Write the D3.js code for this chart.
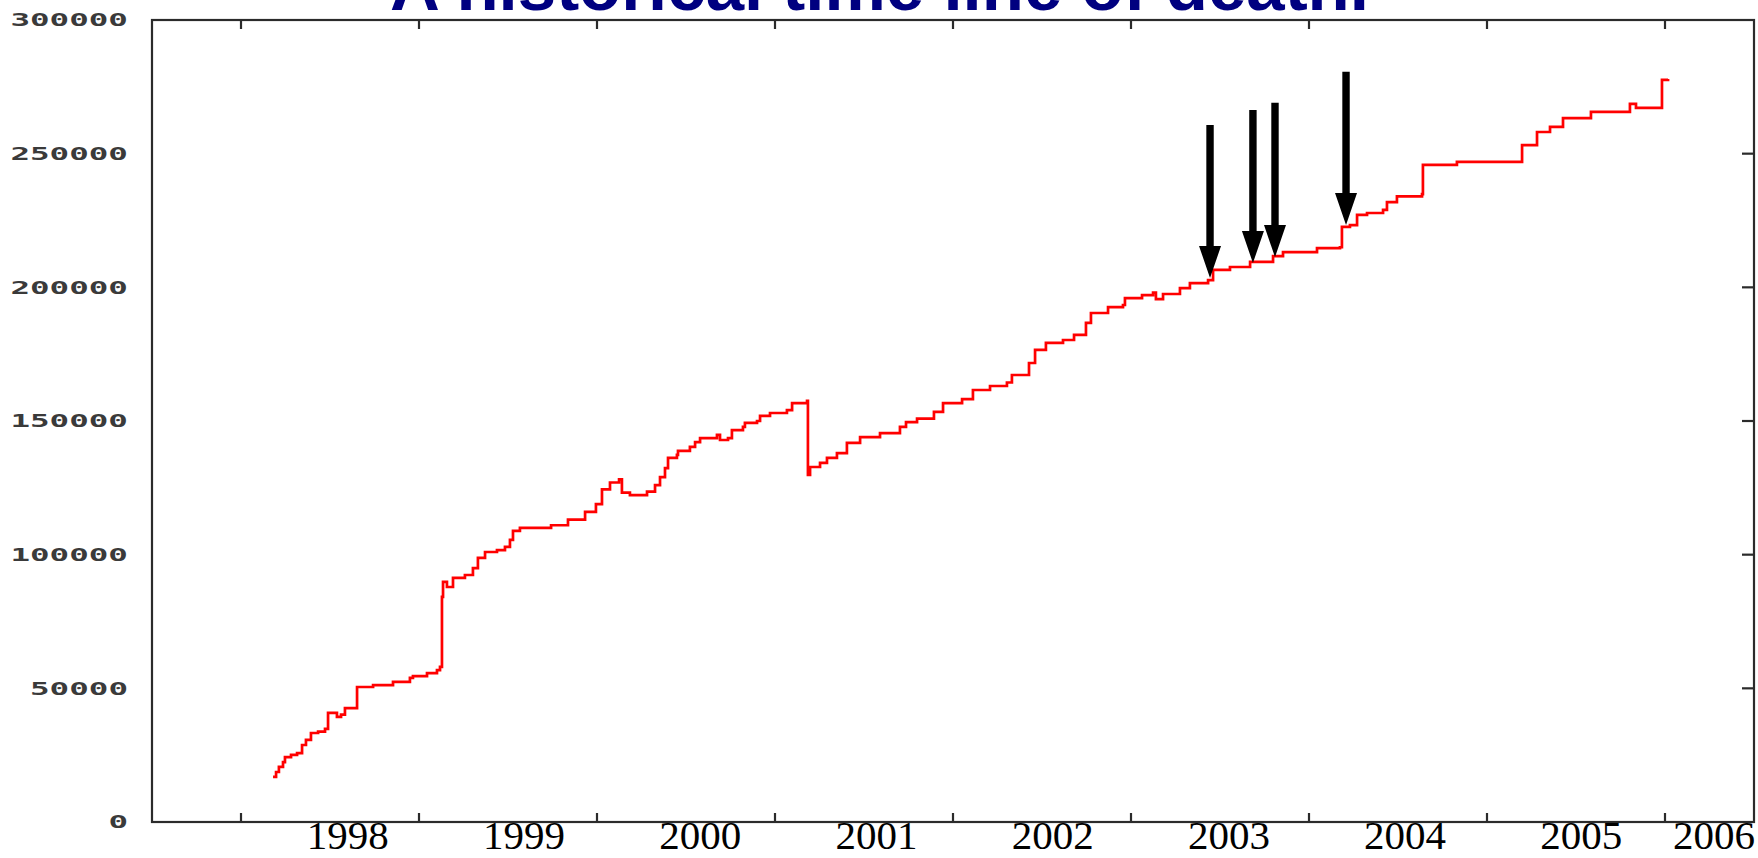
<!DOCTYPE html>
<html>
<head>
<meta charset="utf-8">
<script src="https://cdn.jsdelivr.net/npm/d3@7"></script>
<style>
  html, body { margin: 0; padding: 0; background: #fff; overflow: hidden; }
  svg { display: block; }
</style>
</head>
<body>
<svg id="chart"></svg>
<script>
// cumulative count; years[i] goes with deaths[i]
const years = [
  1998.180, 1998.197, 1998.213, 1998.236, 1998.247, 1998.281, 1998.315, 1998.343,
  1998.365, 1998.393, 1998.433, 1998.472, 1998.489, 1998.539, 1998.562, 1998.584,
  1998.652, 1998.742, 1998.854, 1998.949, 1998.966, 1999.045, 1999.101, 1999.118,
  1999.129, 1999.135, 1999.157, 1999.191, 1999.258, 1999.303, 1999.331, 1999.371,
  1999.438, 1999.483, 1999.511, 1999.528, 1999.567, 1999.742, 1999.837, 1999.933,
  1999.994, 2000.028, 2000.073, 2000.124, 2000.140, 2000.185, 2000.281, 2000.326,
  2000.354, 2000.382, 2000.399, 2000.449, 2000.455, 2000.522, 2000.551, 2000.579,
  2000.674, 2000.691, 2000.736, 2000.758, 2000.820, 2000.831, 2000.899, 2000.916,
  2000.972, 2001.067, 2001.096, 2001.180, 2001.185, 2001.197, 2001.253, 2001.292,
  2001.348, 2001.404, 2001.478, 2001.590, 2001.702, 2001.736, 2001.798, 2001.893,
  2001.944, 2002.051, 2002.112, 2002.208, 2002.303, 2002.331, 2002.427, 2002.461,
  2002.522, 2002.618, 2002.680, 2002.747, 2002.775, 2002.871, 2002.955, 2002.966,
  2003.062, 2003.124, 2003.140, 2003.180, 2003.275, 2003.331, 2003.433, 2003.461,
  2003.556, 2003.669, 2003.798, 2003.854, 2004.045, 2004.174, 2004.185, 2004.230,
  2004.270, 2004.326, 2004.416, 2004.438, 2004.494, 2004.635, 2004.640, 2004.831,
  2005.197, 2005.281, 2005.354, 2005.427, 2005.584, 2005.803, 2005.837, 2005.983,
  2006.017
];
const deaths = [
   16900,  18700,  20600,  22400,  24300,  25100,  25800,  28800,
   30700,  33300,  33800,  34800,  40800,  39300,  40200,  42600,
   50500,  51200,  52400,  53900,  54600,  55700,  56800,  58000,
   84200,  89800,  87900,  91300,  92400,  95000,  98800, 101000,
  101700, 102900, 105500, 108900, 110000, 111000, 113100, 116000,
  118900, 124400, 127000, 128200, 123200, 122300, 123600, 126000,
  129000, 132400, 136200, 137300, 138800, 140300, 142100, 143600,
  144800, 142900, 143600, 146600, 147800, 149300, 150000, 151900,
  153000, 154100, 156700, 157500, 129800, 132800, 134300, 136200,
  138000, 141800, 144000, 145500, 147800, 149600, 150900, 153400,
  156700, 158200, 161600, 163100, 164400, 167200, 171700, 176600,
  179200, 180300, 182200, 186700, 190400, 192600, 193400, 196000,
  197100, 198000, 195600, 197500, 199700, 201600, 202700, 206500,
  207600, 209500, 211700, 213200, 214700, 215000, 222600, 223300,
  227100, 227800, 229000, 231900, 234000, 234900, 245800, 246900,
  253200, 258100, 260000, 263300, 265600, 268600, 267100, 277600,
  277900
];

const tickYears  = [1998, 1999, 2000, 2001, 2002, 2003, 2004, 2005, 2006];
const yearLabels = ['1998', '1999', '2000', '2001', '2002', '2003', '2004', '2005', '2006'];
const yTicks     = [0, 50000, 100000, 150000, 200000, 250000, 300000];

// the four arrows: when, where the head touches, where the tail starts
const arrowYears = [2003.444, 2003.685, 2003.809, 2004.208];
const arrowTips  = [203500, 209100, 211300, 223300];
const arrowTails = [260700, 266300, 269000, 280600];

const title = 'A historical time line of death.';

const W = 1758, H = 858;
const margin = { top: 20, right: 4, bottom: 36, left: 152 };

const svg = d3.select('#chart').attr('width', W).attr('height', H);

const x = d3.scaleLinear().domain([1997.5, 2006.5]).range([margin.left, W - margin.right]);
const y = d3.scaleLinear().domain([0, 300000]).range([H - margin.bottom, margin.top]);
// the year captions were typed over the plot, a touch tighter than the ticks
const labelX = d3.scaleLinear().domain([1998, 2005]).range([x(1998.6), x(2005.53)]);

const axisColor = '#2b2b2b';

// frame
svg.append('rect')
  .attr('x', x.range()[0]).attr('y', y.range()[1])
  .attr('width', x.range()[1] - x.range()[0])
  .attr('height', y.range()[0] - y.range()[1])
  .attr('fill', 'none').attr('stroke', axisColor).attr('stroke-width', 2.2);

// inward ticks top / bottom
const tickLen = 9;
tickYears.forEach(t => {
  svg.append('line')
    .attr('x1', x(t)).attr('x2', x(t))
    .attr('y1', y(0)).attr('y2', y(0) - tickLen)
    .attr('stroke', axisColor).attr('stroke-width', 2.2);
  svg.append('line')
    .attr('x1', x(t)).attr('x2', x(t))
    .attr('y1', y(300000)).attr('y2', y(300000) + tickLen)
    .attr('stroke', axisColor).attr('stroke-width', 2.2);
});

// inward ticks on the right side
yTicks.slice(1, -1).forEach(v => {
  svg.append('line')
    .attr('x1', x.range()[1]).attr('x2', x.range()[1] - 12)
    .attr('y1', y(v)).attr('y2', y(v))
    .attr('stroke', axisColor).attr('stroke-width', 2.2);
});

// y labels, gnuplot-ish stretched mono
svg.append('g').selectAll('text')
  .data(yTicks)
  .join('text')
    .attr('x', 128)
    .attr('y', d => y(d))
    .attr('dy', '0.36em')
    .attr('text-anchor', 'end')
    .attr('font-family', 'DejaVu Sans Mono, monospace')
    .attr('font-weight', 'bold')
    .attr('font-size', 18)
    .attr('fill', '#3a3a3a')
    .attr('textLength', d => String(d).length * 19.6)
    .attr('lengthAdjust', 'spacingAndGlyphs')
    .text(d => d);

// year labels, last one kept inside the page
const yearText = svg.append('g').selectAll('text')
  .data(yearLabels)
  .join('text')
    .attr('y', 849)
    .attr('text-anchor', 'middle')
    .attr('font-family', 'Liberation Serif, Times New Roman, serif')
    .attr('font-size', 41)
    .attr('fill', '#000')
    .text(d => d);
yearText.attr('x', function(d) {
  const w = this.getComputedTextLength();
  return Math.min(labelX(+d), W - 3 - w / 2);
});

// the red step line
const pts = years.map((t, i) => [t, deaths[i]]);
const line = d3.line()
  .x(d => x(d[0]))
  .y(d => y(d[1]))
  .curve(d3.curveStepAfter);

svg.append('path')
  .datum(pts)
  .attr('d', line)
  .attr('fill', 'none')
  .attr('stroke', '#ff0000')
  .attr('stroke-width', 2.7);

// arrows
const shaft = 3.7, head = 11, headLen = 32;
arrowYears.forEach((t, i) => {
  const ax = x(t), tip = y(arrowTips[i]), tail = y(arrowTails[i]);
  const hb = tip - headLen;
  const p = d3.path();
  p.moveTo(ax - shaft, tail);
  p.lineTo(ax + shaft, tail);
  p.lineTo(ax + shaft, hb);
  p.lineTo(ax + head, hb);
  p.lineTo(ax, tip);
  p.lineTo(ax - head, hb);
  p.lineTo(ax - shaft, hb);
  p.closePath();
  svg.append('path').attr('d', p.toString()).attr('fill', '#000');
});

// title, cut off by the top edge like in the slide
svg.append('text')
  .attr('x', 390)
  .attr('y', 10)
  .attr('font-family', 'Liberation Sans, Arial, sans-serif')
  .attr('font-weight', 'bold')
  .attr('font-size', 69)
  .attr('fill', '#000080')
  .text(title);
</script>
</body>
</html>
